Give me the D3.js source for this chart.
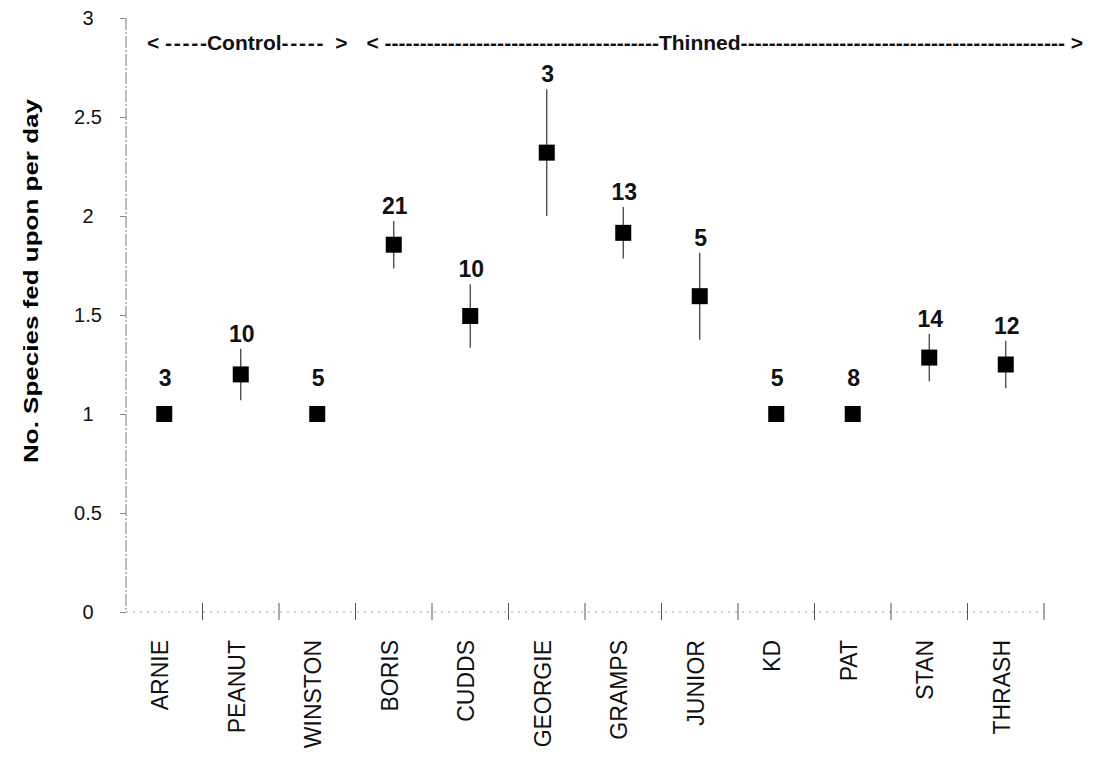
<!DOCTYPE html>
<html>
<head>
<meta charset="utf-8">
<script src="https://cdn.jsdelivr.net/npm/d3@7"></script>
<style>
    body { margin: 0; background: #fff; }
    svg { display: block; font-family: "Liberation Sans", Arial, sans-serif; }
    .yAxis path { display: none; }
    .yAxis line { stroke: #888; }
    .yAxis text { font-size: 20px; fill: #111; }
    .counts { font-size: 23px; font-weight: bold; fill: #111; }
    .groupLabel text { font-size: 21px; font-weight: bold; fill: #111; }
</style>
</head>
<body>
<script>
//birds (categories) along the x axis
var birds = ["ARNIE", "PEANUT", "WINSTON", "BORIS", "CUDDS", "GEORGIE",
             "GRAMPS", "JUNIOR", "KD", "PAT", "STAN", "THRASH"];

//mean no. of species fed upon per day
var means = [1.0, 1.2, 1.0, 1.855, 1.495, 2.32, 1.915, 1.595, 1.0, 1.0, 1.285, 1.25];

//standard error (0 = no bar drawn)
var errors = [0, 0.13, 0, 0.12, 0.16, 0.32, 0.13, 0.22, 0, 0, 0.12, 0.12];

//sample size printed above each point
var counts = [3, 10, 5, 21, 10, 3, 13, 5, 5, 8, 14, 12];

//y axis ticks
var yTicks = [0, 0.5, 1, 1.5, 2, 2.5, 3];

//groups across the top
var groupNames = ["Control", "Thinned"];
var groupFirst = ["ARNIE", "BORIS"];
var groupLast = ["WINSTON", "THRASH"];

(function(){

var width = 1096,
    height = 767;

var svg = d3.select("body")
    .append("svg")
    .attr("width", width)
    .attr("height", height);

//scales
var x = d3.scaleBand()
    .domain(birds)
    .range([126, 1044]);

var y = d3.scaleLinear()
    .domain([0, 3])
    .range([612, 18]);

//y axis line (broken, scanned look)
svg.append("line")
    .attr("x1", 126).attr("x2", 126)
    .attr("y1", y(3)).attr("y2", y(0))
    .attr("stroke", "#777")
    .attr("stroke-width", 1)
    .attr("stroke-dasharray", "12,2,2,2");

//y axis ticks + labels
var yAxis = svg.append("g")
    .attr("class", "yAxis")
    .attr("transform", "translate(126,0)")
    .call(d3.axisLeft(y).tickValues(yTicks).tickSize(6).tickFormat(d3.format("")));

yAxis.selectAll("text")
    .attr("x", -38)
    .style("text-anchor", "middle");

//x axis baseline, faint dotted
svg.append("line")
    .attr("x1", 126).attr("x2", x.range()[1])
    .attr("y1", y(0)).attr("y2", y(0))
    .attr("stroke", "#999")
    .attr("stroke-width", 1)
    .attr("stroke-dasharray", "2,5");

//tick marks between birds
svg.selectAll(".xTick")
    .data(birds)
    .enter()
    .append("line")
    .attr("class", "xTick")
    .attr("x1", function(d){ return x(d) + x.bandwidth(); })
    .attr("x2", function(d){ return x(d) + x.bandwidth(); })
    .attr("y1", y(0) - 9)
    .attr("y2", y(0) + 8)
    .attr("stroke", "#555")
    .attr("stroke-width", 1);

//bird names, rotated
svg.selectAll(".xLabel")
    .data(birds)
    .enter()
    .append("text")
    .attr("class", "xLabel")
    .attr("transform", function(d){
        return "translate(" + (x(d) + x.bandwidth() / 2 - 4) + ",640) rotate(-90)";
    })
    .attr("dy", "0.35em")
    .attr("text-anchor", "end")
    .style("font-size", "23px")
    .style("fill", "#111")
    .text(function(d){ return d; });

//y axis title
svg.append("text")
    .attr("transform", "translate(31,281) rotate(-90)")
    .attr("dy", "0.35em")
    .attr("text-anchor", "middle")
    .style("font-size", "20px")
    .style("font-weight", "bold")
    .attr("textLength", 364)
    .attr("lengthAdjust", "spacingAndGlyphs")
    .text("No. Species fed upon per day");

var pts = birds.map(function(d, i){
    return {bird: d, mean: means[i], se: errors[i], n: counts[i]};
});

//error bars
svg.selectAll(".errBar")
    .data(pts.filter(function(d){ return d.se > 0; }))
    .enter()
    .append("line")
    .attr("class", "errBar")
    .attr("x1", function(d){ return x(d.bird) + x.bandwidth() / 2; })
    .attr("x2", function(d){ return x(d.bird) + x.bandwidth() / 2; })
    .attr("y1", function(d){ return y(d.mean + d.se); })
    .attr("y2", function(d){ return y(d.mean - d.se); })
    .attr("stroke", "#333")
    .attr("stroke-width", 1.2);

//squares
var sq = 16;
svg.selectAll(".point")
    .data(pts)
    .enter()
    .append("rect")
    .attr("class", "point")
    .attr("x", function(d){ return x(d.bird) + x.bandwidth() / 2 - sq / 2; })
    .attr("y", function(d){ return y(d.mean) - sq / 2; })
    .attr("width", sq)
    .attr("height", sq)
    .attr("fill", "#000");

//sample sizes above
svg.selectAll(".counts")
    .data(pts)
    .enter()
    .append("text")
    .attr("class", "counts")
    .attr("x", function(d){ return x(d.bird) + x.bandwidth() / 2 + 1; })
    .attr("y", function(d){
        return d.se > 0 ? y(d.mean + d.se) - 7 : y(d.mean) - 28;
    })
    .attr("text-anchor", "middle")
    .text(function(d){ return d.n; });

//group brackets across the top: < ----name---- >
//pixel offsets from the first / last band edge
var bracketPad = [[21, -8], [11, 39]],
    nameShift = [-3, -25],
    baseY = 50;

groupNames.forEach(function(name, i){
    var left = x(groupFirst[i]) + bracketPad[i][0],
        right = x(groupLast[i]) + x.bandwidth() + bracketPad[i][1],
        mid = (left + right) / 2 + nameShift[i],
        row = svg.append("g").attr("class", "groupLabel");

    row.append("text").attr("x", left).attr("y", baseY).text("<");
    row.append("text").attr("x", right).attr("y", baseY).attr("text-anchor", "end").text(">");
    var label = row.append("text")
        .attr("x", mid).attr("y", baseY)
        .attr("text-anchor", "middle")
        .text(name);
    var half = label.node().getComputedTextLength() / 2;

    //dash runs either side of the name
    var gapIn = 18,
        gapOut = i == 0 ? 24 : 18,
        runs = [[left + gapIn, mid - half], [mid + half, right - gapOut]];
    runs.forEach(function(r){
        var probe = row.append("text").attr("y", baseY).text("-");
        var w = probe.node().getComputedTextLength();
        probe.remove();
        var n = Math.max(1, Math.floor((r[1] - r[0]) / w));
        row.append("text")
            .attr("x", r[0])
            .attr("y", baseY)
            .attr("textLength", r[1] - r[0])
            .attr("lengthAdjust", "spacing")
            .text(d3.range(n).map(function(){ return "-"; }).join(""));
    });
});

})();
</script>
</body>
</html>
